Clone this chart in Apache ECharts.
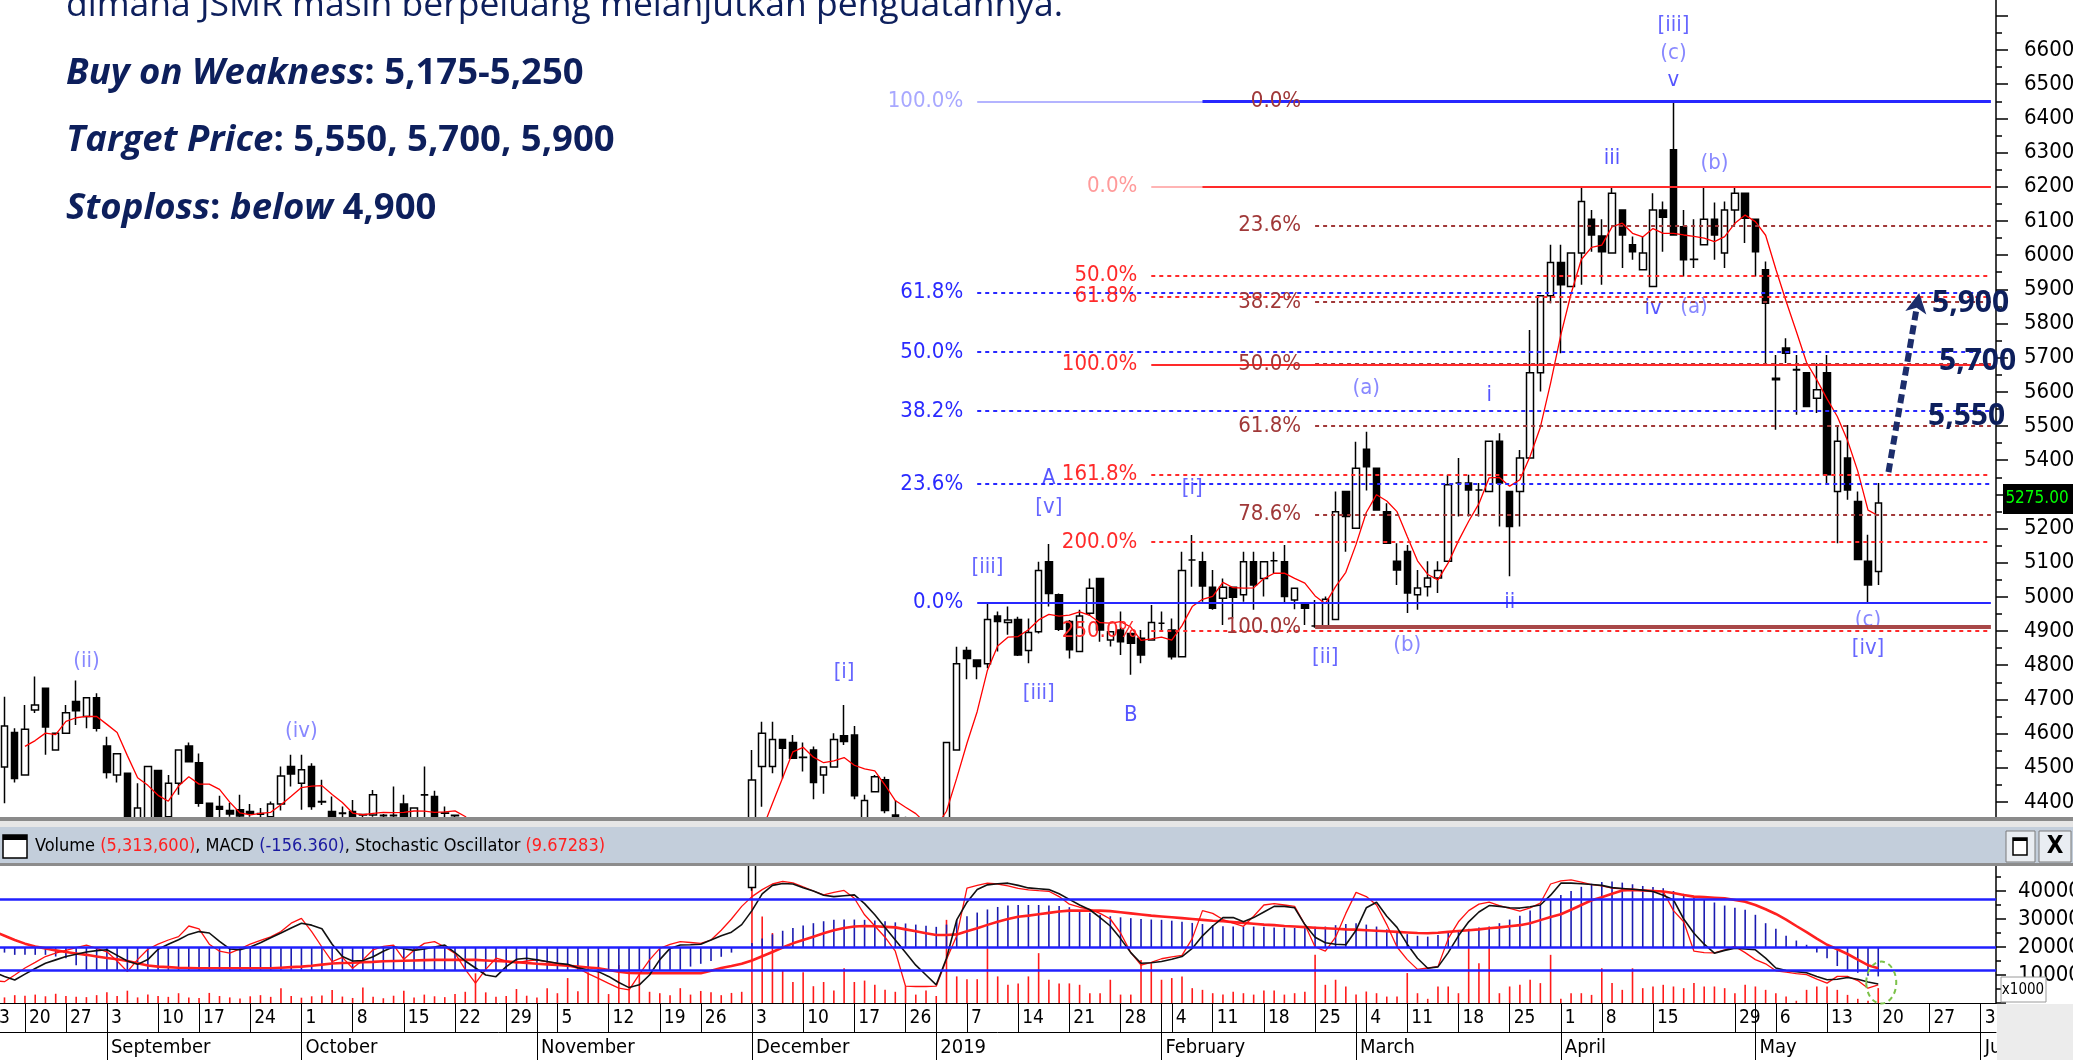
<!DOCTYPE html>
<html>
<head>
<meta charset="utf-8">
<script src="https://cdn.jsdelivr.net/npm/echarts@6/dist/echarts.min.js"></script>
<style>
html,body{margin:0;padding:0;background:#fff;overflow:hidden;}
#main{width:2073px;height:1060px;}
</style>
</head>
<body>
<div id="main"></div>
<script>
const NARROW = "'Liberation Sans Narrow','DejaVu Sans Condensed','Arial Narrow',sans-serif";

// trading calendar (exchange holidays + one day missing in the feed)
const holidays = ['2018-08-17','2018-08-22','2018-08-31','2018-09-11','2018-11-20','2018-12-24','2018-12-25',
  '2018-12-31','2019-01-01','2019-02-05','2019-03-07','2019-04-03','2019-04-17','2019-04-19','2019-05-01'];

// [open, close, low, high]  Aug 13 2018 .. May 20 2019
const prices = [
[4640,4600,4580,4670],[4590,4510,4490,4600],[4502,4622,4396,4708],[4603,4469,4457,4616],[4479,4613,4479,4684],
[4669,4684,4660,4767],[4733,4619,4538,4733],[4552,4601,4552,4601],[4601,4661,4601,4684],[4694,4667,4625,4755],
[4650,4705,4616,4705],[4705,4616,4606,4718],[4564,4486,4469,4591],[4479,4541,4457,4541],[4484,4330,4300,4484],
[4340,4382,4320,4455],[4340,4504,4320,4504],[4492,4340,4320,4492],[4357,4455,4352,4479],[4455,4552,4421,4552],
[4564,4518,4518,4574],[4515,4396,4386,4542],[4396,4340,4320,4396],[4387,4379,4352,4418],[4375,4365,4357,4398],
[4377,4359,4352,4421],[4372,4367,4357,4394],[4366,4364,4355,4382],[4357,4394,4357,4401],[4394,4476,4375,4504],
[4504,4482,4445,4538],[4455,4494,4377,4538],[4504,4387,4377,4513],[4401,4400,4391,4465],[4372,4345,4340,4416],
[4368,4366,4345,4387],[4372,4340,4330,4406],[4363,4362,4345,4363],[4362,4421,4357,4435],[4361,4360,4350,4365],
[4361,4360,4345,4445],[4394,4345,4330,4421],[4345,4382,4340,4382],[4421,4420,4340,4504],[4416,4340,4330,4433],
[4368,4367,4345,4387],[4361,4360,4340,4362],
[4340,4300,4270,4345],[4300,4250,4230,4320],[4250,4220,4190,4270],[4220,4260,4200,4280],[4260,4200,4180,4270],
[4200,4150,4130,4220],[4150,4180,4140,4200],[4180,4120,4100,4190],[4120,4100,4070,4140],[4100,4150,4090,4170],
[4150,4120,4100,4160],[4120,4080,4060,4130],[4080,4050,4020,4090],[4050,4020,3990,4070],[4020,4000,3970,4040],
[4000,4050,3980,4060],[4050,4080,4030,4100],[4080,4120,4070,4140],[4120,4150,4100,4170],[4150,4130,4110,4170],
[4130,4160,4120,4180],[4160,4200,4150,4220],[4200,4180,4160,4220],[4180,4150,4130,4200],[4150,4170,4140,4190],
[4170,4200,4160,4220],[4200,4180,4160,4220],[4180,4150,4130,4200],
[4150,4464,4140,4552],[4504,4601,4386,4635],[4504,4583,4484,4635],[4583,4557,4469,4583],[4574,4528,4528,4596],
[4531,4530,4489,4574],[4552,4457,4408,4562],[4479,4502,4424,4502],[4502,4583,4502,4601],[4594,4577,4567,4684],
[4596,4418,4408,4622],[4340,4404,4330,4421],[4430,4474,4430,4479],[4465,4375,4367,4474],[4362,4350,4330,4404],
[4340,4320,4300,4357],[4320,4310,4290,4356],[4310,4330,4290,4355],[4320,4330,4290,4353],[4330,4574,4310,4574],
[4552,4804,4552,4854],[4843,4820,4759,4854],[4815,4796,4759,4815],[4804,4934,4791,4981],[4944,4928,4840,4957],
[4925,4932,4889,4972],[4934,4830,4827,4942],[4843,4896,4806,4937],[4898,5077,4893,5103],[5103,5010,4972,5155],
[5006,4905,4900,5010],[4928,4845,4820,4932],[4840,4944,4838,4962],[4952,5025,4944,5054],[5054,4903,4869,5054],
[4874,4898,4855,4898],[4903,4869,4830,4957],[4893,4864,4772,4893],[4879,4830,4806,4903],[4874,4925,4874,4976],
[4923,4923,4903,4957],[4903,4825,4817,4937],[4825,5077,4825,5132],[5108,5108,5030,5181],[5103,5032,4986,5132],
[5028,4967,4962,5079],[4996,5028,4918,5054],[5028,4999,4937,5028],[5006,5103,4986,5132],[5103,5035,4962,5132],
[5054,5103,5001,5103],[5106,5106,5069,5132],[5103,5001,4979,5152],[4991,5025,4964,5025],[4979,4967,4918,4979],
[4915,4915,4910,4991],[4915,4993,4912,5001],[4934,5249,4934,5308],[5308,5235,5132,5308],[5201,5376,5201,5454],
[5432,5381,5311,5483],[5376,5254,5254,5376],[5249,5157,5157,5274],[5104,5079,5035,5157],[5133,5011,4953,5152],
[5006,5026,4962,5079],[5030,5055,5001,5104],[5055,5077,5011,5104],[5104,5328,5104,5357],[5333,5333,5235,5406],
[5333,5313,5235,5357],[5313,5313,5235,5333],[5308,5455,5308,5455],[5455,5333,5206,5479],[5308,5206,5060,5308],
[5308,5406,5206,5430],[5406,5656,5406,5781],[5656,5881,5601,5881],[5881,5978,5859,6030],[5978,5913,5713,6030],
[5908,6006,5908,6006],[6006,6157,5913,6200],[6105,6059,6010,6132],[6056,6010,5913,6105],[6006,6181,6006,6200],
[6132,6059,5962,6132],[6030,6010,5986,6054],[5957,6006,5957,6054],[5908,6132,5908,6181],[6132,6111,6010,6157],
[6308,6059,6059,6450],[6083,5986,5937,6132],[5988,5987,5962,6105],[6030,6105,6030,6200],[6105,6059,5986,6154],
[6006,6132,5962,6157],[6132,6181,6088,6200],[6181,6108,6035,6181],[6105,6010,5937,6105],[5957,5859,5684,5981],
[5640,5635,5489,5708],[5728,5713,5684,5757],[5665,5664,5533,5708],[5656,5557,5557,5656],[5581,5606,5538,5684],
[5656,5357,5333,5708],[5308,5455,5157,5503],[5406,5313,5284,5503],[5279,5109,5109,5308],[5104,5035,4984,5182],
[5074,5275,5035,5333]
];

// lower pane, in axis units of 1000 (x1000 scale)
const volume = [
3.5,4.1,2.0,2.8,2.6,3.0,2.4,3.3,2.5,2.2,2.1,2.8,3.8,2.5,4.4,
2.0,3.0,2.5,2.2,3.5,2.0,1.8,3.6,2.5,2.0,1.6,2.4,2.8,2.2,5.3,
2.5,1.9,2.4,2.7,4.6,2.3,1.8,5.5,2.2,1.7,2.6,4.4,2.0,3.0,2.4,2.1,3.2,
4.0,10.6,3.8,2.2,2.5,5.0,2.6,2.0,5.3,3.5,8.9,4.2,11.0,13.0,3.2,13.6,12.0,10.6,4.0,3.5,2.8,5.3,3.0,4.3,3.8,2.8,3.6,4.0,
42.8,30.9,25,11.5,7.5,11,6,7.5,4.5,12.4,7.5,8,6.5,4.7,4,
6,3,4.5,2.5,29.7,9.5,8.5,8.5,19.6,9.5,6.5,7,9.5,17.8,8.3,7,
7,6.5,3.5,3.5,8.3,3,3,15.4,14.2,8.3,8.9,9.5,5.3,4.7,3.5,3,4,3.5,3,4.5,
4.5,3,3.5,4,17.2,6.5,8.3,5.9,3,4.1,3.5,2.3,2.3,10.7,3.5,1.5,5.9,5.9,3.5,20.2,
14.2,20.2,3.5,5.9,6.5,8.3,7.1,17.2,1.5,3.5,3.5,2.9,12.4,7.1,4.7,12.4,5.3,5.9,6.5,5.9,
5.3,7.1,5.9,5.9,5.3,3.5,6.5,5.9,4.7,3.5,2.3,0.8,4.7,5.9,5.9,4.7,2.9,1.5,0.8,5.3136
];
const macd = [
18.5,18.3,18,17.2,17.2,17.2,17.2,16.6,16,13.5,
11.7,11.7,11.7,11.7,11.7,11.7,11.7,11.7,11.7,11.7,
11.7,11.7,11.7,11.7,11.7,11.7,11.7,11.7,11.7,11.7,
11.7,11.7,11.7,11.7,11.7,11.7,11.7,11.7,11.7,11.7,
11.7,11.7,11.7,11.7,11.7,11.7,11.7,11.7,11.7,11.7,
11.7,11.7,11.7,11.7,11.7,11.7,11.7,11.7,11.7,11.7,
11.7,11.7,11.7,11.7,11.7,11.7,11.7,11.7,11.7,
13,14,15,16.5,18,19.7,21.4,23,24.5,25.8,
26.8,27.7,28.5,29.2,29.7,29.8,29.8,29.7,29.5,29.2,
28.8,28.4,28,27.6,27.2,28,29.7,31,32.3,33.4,
34.3,34.8,35,35,35,34.8,34.6,34.2,33.2,32.2,
31.5,31,30.6,30.3,30,29.8,29.7,29.4,29,28.6,
28.2,27.8,27.4,27.3,27.3,27.3,27.2,27,26.9,26.8,
27,27.2,27.3,27.8,28.2,28.5,28,27.3,26.3,25.3,
24.6,24,23.7,24.3,25.2,26,26.5,27,27.3,28.5,
29.8,31.2,33,35,37,38.6,40,41.5,42.6,43.2,
43.4,43,42.4,41.8,41.4,41,40,39,38,37,
35.9,34.8,34,33.3,31.5,28.5,26.5,24,22.3,20.8,
18,16,13.2,11.6,10.8,9.7,9.5
];
const signal = [
27,25.5,24,22.5,21.2,20.2,19.5,18.8,18.2,17.7,17.2,16.6,16.1,15.6,15,14.2,13.4,13,12.8,12.6,
12.5,12.4,12.4,12.4,12.4,12.4,12.4,12.4,12.4,12.6,12.8,13,13.3,13.7,14.1,14.3,14.4,14.6,14.7,14.9,
15,15.1,15.2,15.3,15.4,15.4,15.4,15.4,15.4,15.2,15,14.8,14.6,14.3,14,13.8,13.6,13.3,13,12.7,
12.4,11.8,11.2,10.7,10.6,10.6,10.6,10.6,10.6,10.6,10.6,11.5,12.5,13.2,14,15.2,16.7,18.2,19.8,21.3,
22.5,23.7,24.9,26,26.8,27.3,27.5,27.4,27.2,27,26.3,25.6,24.9,24.3,24.3,24.5,25.6,26.7,27.9,29,
30,30.8,31.2,31.7,32.2,32.7,33,33,33,33,32.8,32.4,32,31.6,31.2,30.9,30.6,30.3,30,29.7,
29.4,29.2,28.9,28.6,28.3,28,27.8,27.5,27.3,27.1,26.9,26.7,26.5,26.3,26.2,26,25.8,25.6,25.4,25.2,
25,24.9,25.1,25.4,25.7,26,26.3,26.7,27,27.4,27.8,28.5,29.6,30.7,31.7,33.3,35,36.7,37.8,39,
40.2,40.4,40.2,40,39.8,39.3,38.6,38,37.8,37.6,37.4,36.8,36.2,35,33.5,31.8,29.8,27.5,25.3,23,
20.8,19.2,17.5,15.5,13.5,12.4
];
const stochK = [
9,8,7.6,10,12.5,14.5,16.6,17.8,18.8,19.8,20.7,19.5,18.3,15,11.2,15.5,19.2,21,22.5,23.7,
27.5,26.5,21,18.5,17.8,19.3,21,22.4,23.6,25.5,28.5,30.2,25.5,20,14.8,16.3,12.4,15.4,19,20.2,
20.7,15.6,18.8,21.3,21.9,20,17.7,12,7.1,12,16,15,14.3,15,15.4,14.7,14.2,13.4,12.4,10.5,
8.8,7,5.3,4.7,10.2,15.4,19.5,20.9,21.9,21.6,21.3,22.5,26,30,34.5,38,40.5,42.5,43.4,42.9,
41.5,40,38.6,39.5,40.2,37.4,31.5,27.5,23.5,18.5,6,5.9,5.9,6,15.5,24,41,42,42.8,42.5,
41.8,40.9,40.4,40.1,39.9,38,35.3,34.2,33.4,32,30,25,18,13.5,14.5,15.8,16.5,17,23,33,
32,29.8,28.5,27.4,31,35,35.5,35,34.5,28,20,18.5,23.5,32,39.5,38,35,28,20,15.5,
12,12.5,13,23,29,33,35.3,36,34.8,33.8,32.8,34,35.7,42.5,43.6,44,43.2,42.3,41.8,41,
40.8,40.6,40.3,40.1,39.8,33,29,18.5,18,17.9,19,20.2,18,15.5,14,11.5,11,10.5,10.1,8.5,
7.1,9.5,9.5,8,5.3,6.5
];
const stochD = [
12,11,9.5,8.2,10.3,12.3,14.2,15.4,16.6,17.4,18.2,18.7,19,17,15,13.8,15.5,19.2,21,22.6,
24.5,25.5,25,22,19.3,19,20,21.5,23.3,25,26.8,28.5,27.8,26.5,21,16.6,15,15.2,16.5,18.5,
20.1,19.4,18.8,19.3,20,20.7,18,15,12.5,10,9.4,13,15.6,16,15.4,14.8,14.2,13.8,12.6,11.8,
11.2,9.5,7.3,5.5,6.5,10,15.5,19.5,20.7,20.8,21,22.5,24,25.3,28,33,39,42,42.7,42.5,
41.2,40,38.5,38,38.3,38.6,35.5,31.5,27,22.5,18,13.5,10,6.5,16,29.7,36,40.5,42.2,42.6,
42.8,42,41.1,40.8,40.5,39,37,35,33.3,30.5,27.5,23,18,14.2,14.4,14.8,15.6,16.6,19.5,24,
27.5,30.5,30.5,29,30.5,32.5,34.5,34.5,34,28,23.5,21.5,21,20.8,26,34,36,31,27,21,
16,12.4,12.9,18,24,29,32.5,34.8,34.5,34,33.9,34.4,35,38.5,42.8,42.8,42.6,42.3,42,41.2,
40.9,40.6,40.3,39.8,38.5,36.8,30,24.9,21,17.8,18.8,19.6,19.3,19,16,12.5,11.6,11.2,10.8,9.5,
8.3,8.5,9.1,8.5,7.5,6.8
];
const lowerLevels = [37, 20, 11.7];

// fibonacci anchors and ratios
const blueAnchors = [6450, 4984];          // 100% , 0%
const blueRatios = [1, 0.618, 0.5, 0.382, 0.236, 0];
const redAnchors = [6200, 5680];           // 0% , 100%
const redRatios = [0, 0.5, 0.618, 1, 1.618, 2, 2.5];
const darkAnchors = [6450, 4912];          // 0% , 100%
const darkRatios = [0, 0.236, 0.382, 0.5, 0.618, 0.786, 1];
const fibStarts = ['2019-01-08', '2019-01-31', '2019-02-25', '2019-02-08'];

// elliott wave labels [date, price, text]
const waveLabels = [
  ['2018-08-29', 4812, '(ii)'], ['2018-10-01', 4608, '(iv)'], ['2018-12-14', 4780, '[i]'],
  ['2019-01-09', 5088, '[iii]'], ['2019-01-17', 5348, 'A'], ['2019-01-17', 5263, '[v]'],
  ['2019-01-16', 4719, '[iii]'], ['2019-01-29', 4654, 'B'], ['2019-02-07', 5319, '[i]'],
  ['2019-02-26', 4824, '[ii]'], ['2019-03-04', 5611, '(a)'], ['2019-03-11', 4859, '(b)'],
  ['2019-03-21', 5591, 'i'], ['2019-03-25', 4985, 'ii'], ['2019-04-09', 6284, 'iii'],
  ['2019-04-15', 5845, 'iv'], ['2019-04-23', 5848, '(a)'], ['2019-04-25', 6269, '(b)'],
  ['2019-04-18', 6512, 'v'], ['2019-04-18', 6591, '(c)'], ['2019-04-18', 6673, '[iii]'],
  ['2019-05-17', 4932, '(c)'], ['2019-05-17', 4850, '[iv]']
];
const arrowPath = [['2019-05-21', 5365], ['2019-05-24', 5889]];

const weekTicks = ['2018-08-13','2018-08-20','2018-08-27','2018-09-03','2018-09-10','2018-09-17','2018-09-24',
  '2018-10-01','2018-10-08','2018-10-15','2018-10-22','2018-10-29','2018-11-05','2018-11-12','2018-11-19',
  '2018-11-26','2018-12-03','2018-12-10','2018-12-17','2018-12-26','2019-01-07','2019-01-14','2019-01-21',
  '2019-01-28','2019-02-04','2019-02-11','2019-02-18','2019-02-25','2019-03-04','2019-03-11','2019-03-18',
  '2019-03-25','2019-04-01','2019-04-08','2019-04-15','2019-04-29','2019-05-06','2019-05-13','2019-05-20',
  '2019-05-27','2019-06-03'];
const monthTicks = ['2018-09-03','2018-10-01','2018-11-01','2018-12-03','2019-01-02','2019-02-01',
  '2019-03-01','2019-04-01','2019-05-02','2019-06-03'];
const monthNames = ['September','October','November','December','2019','February','March','April','May','June'];

function buildDates(start, end) {
  const out = [];
  const d = new Date(start + 'T00:00:00Z');
  const last = new Date(end + 'T00:00:00Z');
  while (d <= last) {
    const s = d.toISOString().slice(0, 10);
    const wd = d.getUTCDay();
    if (wd !== 0 && wd !== 6 && holidays.indexOf(s) < 0) out.push(s);
    d.setUTCDate(d.getUTCDate() + 1);
  }
  return out;
}
const dates = buildDates('2018-08-13', '2019-06-04');
const lastDate = dates[dates.length - 1];
const weekSet = new Set(weekTicks);
const monthMap = {};
monthTicks.forEach((m, i) => { monthMap[m] = monthNames[i]; });

const ma5 = prices.map((r, i) => {
  if (i < 4) return '-';
  let s = 0;
  for (let k = i - 4; k <= i; k++) s += prices[k][1];
  return +(s / 5).toFixed(1);
});

const pct = r => (r * 100).toFixed(1) + '%';
function hLine(from, level, color, dashed, width, text, labelColor) {
  return [{
    coord: [from, level],
    lineStyle: { color: color, type: dashed ? [4, 4] : 'solid', width: width },
    label: text ? { show: true, position: 'start', formatter: text, color: labelColor, fontSize: 22,
      fontFamily: NARROW, distance: 14 } : { show: false }
  }, { coord: [lastDate, level] }];
}

const darkLines = darkRatios.map(r => {
  const lv = darkAnchors[0] - r * (darkAnchors[0] - darkAnchors[1]);
  if (r === 1) return hLine(fibStarts[2], lv, '#a84848', false, 4, pct(r), '#a03838');
  return hLine(fibStarts[2], lv, '#a03838', r !== 0, 2, pct(r), '#a03838');
});
const redLines = [];
redRatios.forEach(r => {
  const lv = redAnchors[0] - r * (redAnchors[0] - redAnchors[1]);
  if (r === 0) {
    redLines.push(hLine(fibStarts[1], lv, '#ffb4b4', false, 2, pct(r), '#ff9a9a'));
    redLines.push(hLine(fibStarts[3], lv, '#ff2a2a', false, 2, '', ''));
  } else {
    redLines.push(hLine(fibStarts[1], lv, '#ff2a2a', r !== 1, 2, pct(r), '#ff2a2a'));
  }
});
const blueLines = [];
blueRatios.forEach(r => {
  const lv = blueAnchors[1] + r * (blueAnchors[0] - blueAnchors[1]);
  if (r === 1) {
    blueLines.push(hLine(fibStarts[0], lv, '#b4b4ff', false, 2, pct(r), '#a8a8ff'));
    blueLines.push(hLine(fibStarts[3], lv, '#2828ff', false, 3, '', ''));
  } else {
    blueLines.push(hLine(fibStarts[0], lv, '#2828ff', r !== 0, 2, pct(r), '#2a2aff'));
  }
});
const arrowLine = [{
  coord: arrowPath[0], symbol: 'none',
  lineStyle: { color: '#1c2d6b', type: [9, 5], width: 6 }, label: { show: false }
}, { coord: arrowPath[1], symbol: 'arrow', symbolSize: [16, 20] }];

function labelColor(t) {
  if (t.charAt(0) === '(') return '#6a6aff';
  if (t.charAt(0) === '[') return '#4040ff';
  return '#2a2aff';
}

function vline(base, color, width) {
  return function (params, api) {
    const x = api.value(0);
    const p1 = api.coord([x, base]);
    const p2 = api.coord([x, api.value(1)]);
    return { type: 'line', shape: { x1: p1[0], y1: p1[1], x2: p2[0], y2: p2[1] },
      style: { stroke: color, lineWidth: width } };
  };
}

const chart = echarts.init(document.getElementById('main'), null, { renderer: 'canvas' });
const gridLeft = -21.1, gridRight = 77;

const option = {
  animation: false,
  backgroundColor: '#ffffff',
  textStyle: { fontFamily: NARROW },
  grid: [
    { left: gridLeft, right: gridRight, top: -18.36, height: 854.5, containLabel: false, outerBoundsMode: 'none' },
    { left: gridLeft, right: gridRight, top: 863, height: 140, containLabel: false, outerBoundsMode: 'none' }
  ],
  xAxis: [
    { type: 'category', gridIndex: 0, data: dates, boundaryGap: true, show: false },
    { type: 'category', gridIndex: 1, data: dates, boundaryGap: true, position: 'bottom', offset: 0,
      axisLine: { show: true, lineStyle: { color: '#000', width: 1 } },
      axisTick: { show: true, alignWithLabel: true, length: 29, interval: (i, v) => weekSet.has(v),
        lineStyle: { color: '#000', width: 1 } },
      axisLabel: { show: true, interval: (i, v) => weekSet.has(v), formatter: v => String(+v.slice(8)),
        align: 'left', margin: 6, padding: [0, 0, 0, 4], fontSize: 19, color: '#000', fontFamily: NARROW,
        hideOverlap: false },
      splitLine: { show: false } },
    { type: 'category', gridIndex: 1, data: dates, boundaryGap: true, position: 'bottom', offset: 0,
      axisLine: { show: false },
      axisTick: { show: true, alignWithLabel: true, length: 57, interval: (i, v) => v in monthMap,
        lineStyle: { color: '#000', width: 1 } },
      axisLabel: { show: false }, splitLine: { show: false } },
    { type: 'category', gridIndex: 1, data: dates, boundaryGap: true, position: 'bottom', offset: 29,
      axisLine: { show: true, lineStyle: { color: '#000', width: 1 } },
      axisTick: { show: false },
      axisLabel: { show: true, interval: (i, v) => v in monthMap, formatter: v => monthMap[v] || '',
        align: 'left', margin: 6, padding: [0, 0, 0, 4], fontSize: 20, color: '#000', fontFamily: NARROW,
        hideOverlap: false },
      splitLine: { show: false } }
  ],
  yAxis: [
    { type: 'value', gridIndex: 0, position: 'right', min: 4300, max: 6800, interval: 100,
      axisLine: { show: true, lineStyle: { color: '#000', width: 1.5 } },
      axisTick: { show: true, length: 12, lineStyle: { color: '#000', width: 1.5 } },
      minorTick: { show: true, splitNumber: 2, length: 6, lineStyle: { color: '#000', width: 1.5 } },
      axisLabel: { margin: 28, fontSize: 22, color: '#000', fontFamily: NARROW, hideOverlap: false,
        formatter: v => (v >= 4400 && v <= 6600) ? String(v) : '' },
      splitLine: { show: false } },
    { type: 'value', gridIndex: 1, position: 'right', min: 0, max: 50, interval: 10,
      axisLine: { show: true, lineStyle: { color: '#000', width: 1.5 } },
      axisTick: { show: true, length: 10, lineStyle: { color: '#000', width: 1.5 } },
      minorTick: { show: true, splitNumber: 2, length: 5, lineStyle: { color: '#000', width: 1.5 } },
      axisLabel: { margin: 22, fontSize: 22, color: '#000', fontFamily: NARROW, hideOverlap: false,
        formatter: v => (v >= 10 && v <= 40) ? String(v * 1000) : '' },
      splitLine: { show: false } }
  ],
  series: [
    {
      type: 'candlestick', xAxisIndex: 0, yAxisIndex: 0, data: prices, clip: true,
      barWidth: 7,
      itemStyle: { color: '#ffffff', color0: '#000000', borderColor: '#000000', borderColor0: '#000000', borderWidth: 1.5 },
      markLine: { silent: true, symbol: ['none', 'none'], animation: false, data: darkLines }
    },
    {
      type: 'line', xAxisIndex: 0, yAxisIndex: 0, data: ma5, symbol: 'none', clip: true,
      lineStyle: { color: '#ff0000', width: 1.3 },
      markLine: { silent: true, symbol: ['none', 'none'], animation: false,
        data: redLines.concat(blueLines, [arrowLine]) }
    },
    {
      type: 'scatter', xAxisIndex: 0, yAxisIndex: 0, symbolSize: 0, silent: true,
      data: waveLabels.map(w => ({ value: [w[0], w[1]], name: w[2],
        label: { color: labelColor(w[2]) } })),
      label: { show: true, position: 'inside', formatter: p => p.name, fontSize: 22, fontFamily: NARROW }
    },
    {
      type: 'custom', xAxisIndex: 1, yAxisIndex: 1, clip: true, silent: true,
      renderItem: vline(0, '#ff1a1a', 1.6), data: volume.map((v, i) => [i, v])
    },
    {
      type: 'custom', xAxisIndex: 1, yAxisIndex: 1, clip: true, silent: true,
      renderItem: vline(20, '#1a1ab0', 1.6), data: macd.map((v, i) => [i, v])
    },
    {
      type: 'line', xAxisIndex: 1, yAxisIndex: 1, data: signal, symbol: 'none',
      lineStyle: { color: '#ff2020', width: 2.6 }
    },
    {
      type: 'line', xAxisIndex: 1, yAxisIndex: 1, data: stochK, symbol: 'none',
      lineStyle: { color: '#ff1010', width: 1.3 },
      markLine: { silent: true, symbol: ['none', 'none'], label: { show: false },
        lineStyle: { color: '#2020ff', width: 2.5, type: 'solid' },
        data: lowerLevels.map(v => ({ yAxis: v })) }
    },
    {
      type: 'line', xAxisIndex: 1, yAxisIndex: 1, data: stochD, symbol: 'none',
      lineStyle: { color: '#111111', width: 1.6 }
    }
  ]
};
chart.setOption(option);

// overlays: panel separator, indicator header, price tag and text annotations
const lastClose = prices[prices.length - 1][1];
const tagY = chart.convertToPixel({ yAxisIndex: 0 }, lastClose) - 4;
const ellipseC = chart.convertToPixel({ xAxisIndex: 1, yAxisIndex: 1 }, [prices.length - 1, 8]);
const navy = '#0d1f5c';
const headFont = "18px " + NARROW;
const bigBI = 'italic bold 36.5px "Open Sans"';
const bigB = 'bold 36.5px "Open Sans"';

chart.setOption({
  graphic: [
    { type: 'rect', z: 100, shape: { x: 0, y: 817, width: 2073, height: 4 }, style: { fill: '#8a8a8a' } },
    { type: 'rect', z: 100, shape: { x: 0, y: 821, width: 2073, height: 6 }, style: { fill: '#e6e6e6' } },
    { type: 'rect', z: 100, shape: { x: 0, y: 827, width: 2073, height: 36 }, style: { fill: '#c3cedb' } },
    { type: 'rect', z: 100, shape: { x: 0, y: 863, width: 2073, height: 3 }, style: { fill: '#8c8c8c' } },
    { type: 'rect', z: 101, shape: { x: 3, y: 835, width: 24, height: 23 }, style: { fill: '#fff', stroke: '#000', lineWidth: 1.5 } },
    { type: 'rect', z: 101, shape: { x: 3, y: 835, width: 24, height: 5 }, style: { fill: '#000' } },
    { type: 'text', z: 101, x: 35, y: 846, style: {
      text: '{k|Volume }{r|(5,313,600)}{k|, MACD }{b|(-156.360)}{k|, Stochastic Oscillator }{r|(9.67283)}',
      verticalAlign: 'middle', font: headFont,
      rich: { k: { fill: '#000', font: headFont }, r: { fill: '#ff2020', font: headFont }, b: { fill: '#1a1aa0', font: headFont } } } },
    { type: 'rect', z: 101, shape: { x: 2006, y: 831, width: 29, height: 31 }, style: { fill: '#e9edf2', stroke: '#7a7a7a', lineWidth: 1 } },
    { type: 'rect', z: 102, shape: { x: 2013, y: 838, width: 14, height: 17 }, style: { fill: '#fff', stroke: '#000', lineWidth: 1.5 } },
    { type: 'rect', z: 102, shape: { x: 2013, y: 838, width: 14, height: 3 }, style: { fill: '#000' } },
    { type: 'rect', z: 101, shape: { x: 2039, y: 831, width: 32, height: 31 }, style: { fill: '#e9edf2', stroke: '#7a7a7a', lineWidth: 1 } },
    { type: 'text', z: 102, x: 2055, y: 847, style: { text: 'X', font: 'bold 24px ' + NARROW, fill: '#000', align: 'center', verticalAlign: 'middle' } },
    { type: 'rect', z: 100, shape: { x: 1997, y: 1004, width: 76, height: 56 }, style: { fill: '#ececec' } },
    { type: 'rect', z: 101, shape: { x: 2001, y: 977, width: 45, height: 25 }, style: { fill: '#fff', stroke: '#9a9a9a', lineWidth: 1 } },
    { type: 'text', z: 102, x: 2023, y: 990, style: { text: 'x1000', font: '15px ' + NARROW, fill: '#000', align: 'center', verticalAlign: 'middle' } },
    { type: 'rect', z: 101, shape: { x: 2003, y: tagY - 15, width: 70, height: 30 }, style: { fill: '#000' } },
    { type: 'text', z: 102, x: 2037, y: tagY, style: { text: lastClose.toFixed(2), font: '17px ' + NARROW, fill: '#00ff00', align: 'center', verticalAlign: 'middle' } },
    { type: 'ellipse', z: 101, shape: { cx: ellipseC[0] + 3, cy: ellipseC[1] + 2, rx: 15, ry: 21 },
      style: { fill: 'none', stroke: '#7cc24a', lineWidth: 2, lineDash: [5, 4] } },
    { type: 'text', z: 103, x: 1932, y: 303, style: { text: '5,900', font: 'bold 30px "Open Sans"', fill: navy, verticalAlign: 'middle' } },
    { type: 'text', z: 103, x: 1939, y: 361, style: { text: '5,700', font: 'bold 30px "Open Sans"', fill: navy, verticalAlign: 'middle' } },
    { type: 'text', z: 103, x: 1928, y: 416, style: { text: '5,550', font: 'bold 30px "Open Sans"', fill: navy, verticalAlign: 'middle' } },
    { type: 'text', z: 103, x: 66, y: 6, style: { text: 'dimana JSMR masih berpeluang melanjutkan penguatannya.',
      font: '35.5px "Open Sans"', fill: navy, verticalAlign: 'middle' } },
    { type: 'text', z: 103, x: 66, y: 74, style: { text: '{bi|Buy on Weakness}{b|: 5,175-5,250}', verticalAlign: 'middle',
      rich: { bi: { font: bigBI, fill: navy }, b: { font: bigB, fill: navy } } } },
    { type: 'text', z: 103, x: 66, y: 141, style: { text: '{bi|Target Price}{b|: 5,550, 5,700, 5,900}', verticalAlign: 'middle',
      rich: { bi: { font: bigBI, fill: navy }, b: { font: bigB, fill: navy } } } },
    { type: 'text', z: 103, x: 66, y: 209, style: { text: '{bi|Stoploss}{b|: }{bi|below}{b| 4,900}', verticalAlign: 'middle',
      rich: { bi: { font: bigBI, fill: navy }, b: { font: bigB, fill: navy } } } }
  ]
});
</script>
</body>
</html>
